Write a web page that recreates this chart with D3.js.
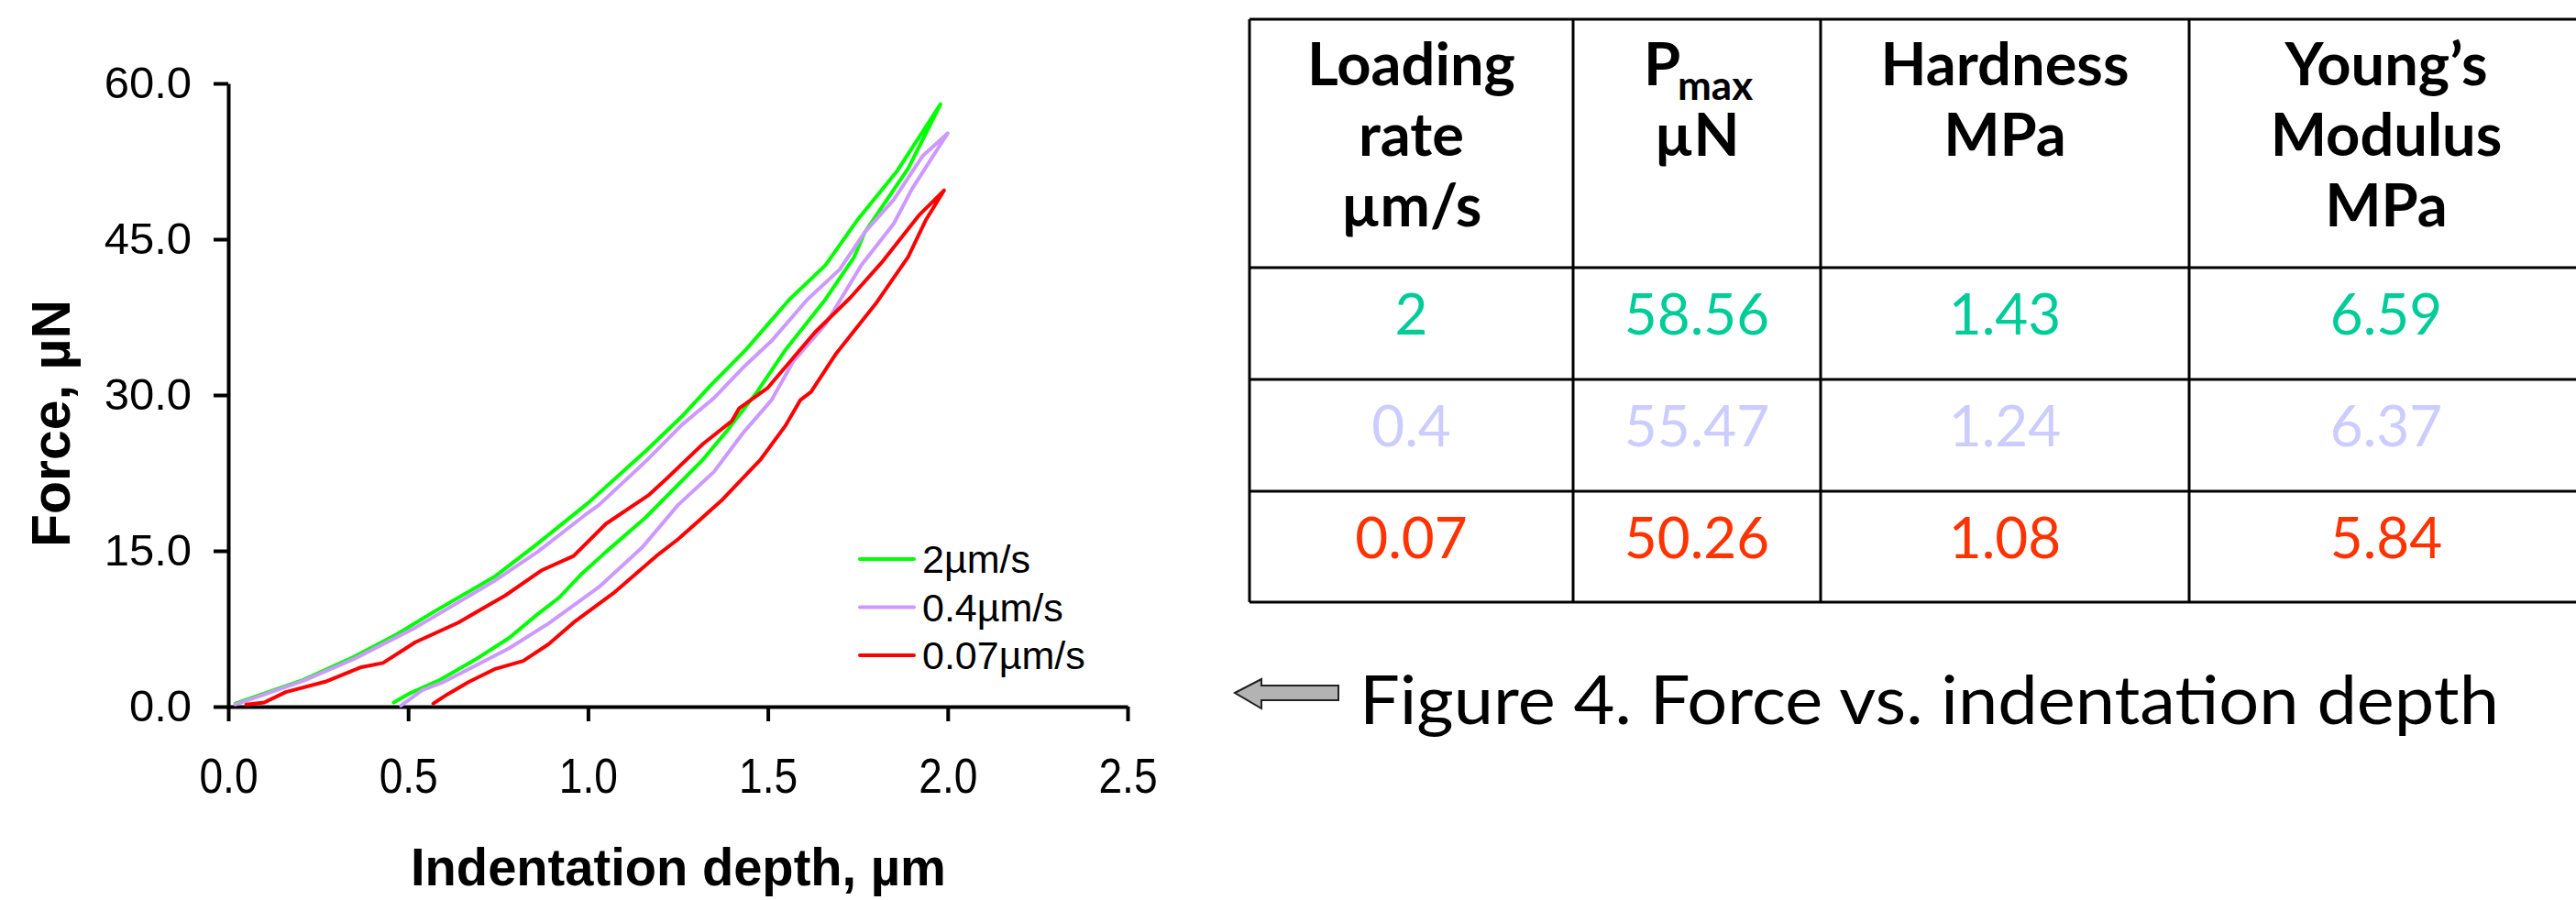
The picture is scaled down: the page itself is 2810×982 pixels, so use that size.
<!DOCTYPE html>
<html>
<head>
<meta charset="utf-8">
<script src="https://cdn.jsdelivr.net/npm/d3@7"></script>
<style>
  body { margin: 0; background: #fff; }
  svg { display: block; }
</style>
</head>
<body>
<div id="chart"></div>
<script>
// loading / unloading curves, [depth µm, force µN]
const rate2Load = [[0.02,0.3],[0.21,2.6],[0.35,4.8],[0.47,7.0],[0.57,9.1],[0.74,12.5],[0.86,15.7],[1.0,19.6],[1.16,24.6],[1.26,27.9],[1.34,30.9],[1.44,34.4],[1.51,37.2],[1.56,39.2],[1.66,42.5],[1.75,46.9],[1.86,51.6],[1.95,56.4],[1.98,58.0]];
const rate2Unload = [[1.98,58.0],[1.89,51.8],[1.77,45.7],[1.74,43.3],[1.66,39.2],[1.55,34.4],[1.47,30.3],[1.39,26.7],[1.32,23.8],[1.24,21.0],[1.16,18.2],[1.05,14.9],[0.98,12.7],[0.92,10.5],[0.86,8.9],[0.78,6.6],[0.69,4.6],[0.59,2.6],[0.50,1.2],[0.46,0.4]];
const rate04Load = [[0.02,0.2],[0.21,2.5],[0.35,4.6],[0.52,7.6],[0.74,12.1],[0.86,14.9],[0.99,18.4],[1.03,19.4],[1.16,23.6],[1.26,27.1],[1.35,29.7],[1.43,32.6],[1.51,35.2],[1.61,39.2],[1.70,42.1],[1.77,45.7],[1.85,48.8],[1.93,53.0],[2.0,55.2]];
const rate04Unload = [[2.0,55.2],[1.90,49.8],[1.85,46.5],[1.76,42.5],[1.66,36.8],[1.57,33.2],[1.51,29.5],[1.43,26.3],[1.35,22.6],[1.25,19.4],[1.15,15.3],[1.03,11.5],[0.89,8.0],[0.78,5.6],[0.69,4.0],[0.60,2.4],[0.54,1.6],[0.48,0.1]];
const rate007Load = [[0.05,0.2],[0.10,0.4],[0.16,1.4],[0.27,2.4],[0.37,3.8],[0.43,4.2],[0.52,6.2],[0.64,8.1],[0.77,10.7],[0.87,13.1],[0.96,14.5],[1.05,17.6],[1.17,20.4],[1.22,22.0],[1.32,25.3],[1.40,27.5],[1.42,28.7],[1.50,30.7],[1.63,36.0],[1.73,39.4],[1.82,42.9],[1.92,47.3],[1.99,49.7]];
const rate007Unload = [[1.99,49.7],[1.94,46.9],[1.89,43.3],[1.80,38.8],[1.69,34.0],[1.62,30.3],[1.59,29.5],[1.55,27.1],[1.48,23.8],[1.37,19.8],[1.25,16.1],[1.19,14.5],[1.07,10.9],[0.96,8.1],[0.89,6.0],[0.82,4.4],[0.74,3.6],[0.67,2.4],[0.61,1.2],[0.57,0.3]];

const seriesNames = ["2µm/s", "0.4µm/s", "0.07µm/s"];
const xTicks = [0, 0.5, 1.0, 1.5, 2.0, 2.5];
const yTicks = [0, 15, 30, 45, 60];

// table
const headerLines = [["Loading", "rate", "µm/s"], ["P", "µN"], ["Hardness", "MPa"], ["Young’s", "Modulus", "MPa"]];
const rateValues = ["2", "0.4", "0.07"];
const pmaxValues = ["58.56", "55.47", "50.26"];
const hardnessValues = ["1.43", "1.24", "1.08"];
const modulusValues = ["6.59", "6.37", "5.84"];
const captionText = "Figure 4. Force vs. indentation depth";

const lineColors = ["#00ff00", "#cc99ff", "#ff0000"];
const rowColors = ["#00cc99", "#ccccff", "#ff3300"];

const svg = d3.select("#chart").append("svg")
  .attr("width", 2810)
  .attr("height", 982);

svg.append("rect").attr("width", 2810).attr("height", 982).attr("fill", "#fff");

// ---- chart ----
const x = d3.scaleLinear().domain([0, 2.5]).range([249, 1230]);
const y = d3.scaleLinear().domain([0, 60]).range([771, 91]);

const xAxis = svg.append("g")
  .attr("transform", "translate(0,771)")
  .call(d3.axisBottom(x).tickValues(xTicks).tickFormat(d3.format(".1f"))
    .tickSize(16).tickSizeOuter(0).tickPadding(40));

const yAxis = svg.append("g")
  .attr("transform", "translate(249,0)")
  .call(d3.axisLeft(y).tickValues(yTicks).tickFormat(d3.format(".1f"))
    .tickSize(16).tickSizeOuter(0).tickPadding(24));

[xAxis, yAxis].forEach(g => {
  g.select(".domain").attr("stroke", "#000").attr("stroke-width", 4);
  g.selectAll(".tick line").attr("stroke", "#000").attr("stroke-width", 4);
  g.selectAll(".tick text")
    .attr("fill", "#000")
    .style("font-family", "'Liberation Sans', Arial, sans-serif");
});
xAxis.selectAll(".tick text").style("font-size", "53px").attr("transform", "scale(0.87,1)");
yAxis.selectAll(".tick text").style("font-size", "49px");

svg.append("text")
  .attr("x", 740).attr("y", 966)
  .attr("text-anchor", "middle")
  .attr("textLength", 584).attr("lengthAdjust", "spacingAndGlyphs")
  .style("font-family", "'Liberation Sans', Arial, sans-serif")
  .style("font-size", "58px").style("font-weight", "bold")
  .text("Indentation depth, µm");

svg.append("text")
  .attr("transform", "translate(76,462) rotate(-90)")
  .attr("text-anchor", "middle")
  .style("font-family", "'Liberation Sans', Arial, sans-serif")
  .style("font-size", "59px").style("font-weight", "bold")
  .text("Force, µN");

const line = d3.line().x(d => x(d[0])).y(d => y(d[1]));
const loops = [rate2Load.concat(rate2Unload), rate04Load.concat(rate04Unload), rate007Load.concat(rate007Unload)];

svg.selectAll(".curve")
  .data(loops)
  .join("path")
  .attr("class", "curve")
  .attr("fill", "none")
  .attr("stroke", (d, i) => lineColors[i])
  .attr("stroke-width", 4)
  .attr("stroke-linejoin", "round")
  .attr("stroke-linecap", "round")
  .attr("d", line);

// legend
const legend = svg.append("g").attr("transform", "translate(938,610)");
seriesNames.forEach((name, i) => {
  legend.append("line")
    .attr("x1", 0).attr("x2", 59)
    .attr("y1", i * 52.5).attr("y2", i * 52.5)
    .attr("stroke", lineColors[i]).attr("stroke-width", 4)
    .attr("stroke-linecap", "round");
  legend.append("text")
    .attr("x", 68).attr("y", i * 52.5 + 15)
    .style("font-family", "'Liberation Sans', Arial, sans-serif")
    .style("font-size", "43px")
    .text(name);
});

// ---- table ----
const colX = [1363, 1716, 1986, 2388, 2818];
const rowY = [21, 292, 414, 536, 657];
const table = svg.append("g");

rowY.forEach(ry => {
  table.append("line")
    .attr("x1", colX[0]).attr("x2", colX[4])
    .attr("y1", ry).attr("y2", ry)
    .attr("stroke", "#000").attr("stroke-width", 3);
});
colX.forEach(cx => {
  table.append("line")
    .attr("x1", cx).attr("x2", cx)
    .attr("y1", rowY[0]).attr("y2", rowY[4])
    .attr("stroke", "#000").attr("stroke-width", 3);
});

const colCenter = i => (colX[i] + colX[i + 1]) / 2;
const headerFont = "Lato, 'Open Sans', sans-serif";

headerLines.forEach((lines, c) => {
  lines.forEach((txt, k) => {
    const t = table.append("text")
      .attr("x", colCenter(c)).attr("y", 93 + k * 77)
      .attr("text-anchor", "middle")
      .style("font-family", headerFont)
      .style("font-size", "65px").style("font-weight", "bold")
      .text(txt);
    // P gets its "max" subscript as a separate label beside it
    if (c === 1 && k === 0) {
      t.attr("x", 1793).attr("text-anchor", "start");
      table.append("text")
        .attr("x", 1830).attr("y", 109)
        .style("font-family", headerFont)
        .style("font-size", "44px").style("font-weight", "bold")
        .text("max");
    }
  });
});

const columns = [rateValues, pmaxValues, hardnessValues, modulusValues];
columns.forEach((vals, c) => {
  vals.forEach((v, r) => {
    table.append("text")
      .attr("x", colCenter(c)).attr("y", rowY[r + 1] + 73)
      .attr("text-anchor", "middle")
      .attr("fill", rowColors[r])
      .style("font-family", headerFont)
      .style("font-size", "62px")
      .text(v);
  });
});

// ---- caption with arrow ----
svg.append("polygon")
  .attr("points", "1347,756 1376,741 1376,748 1460,748 1460,764 1376,764 1376,773")
  .attr("fill", "#b3b3b3")
  .attr("stroke", "#222")
  .attr("stroke-width", 2);

svg.append("text")
  .attr("x", 1483).attr("y", 790)
  .attr("textLength", 1243).attr("lengthAdjust", "spacingAndGlyphs")
  .style("font-family", headerFont)
  .style("font-size", "74px")
  .text(captionText);
</script>
</body>
</html>
